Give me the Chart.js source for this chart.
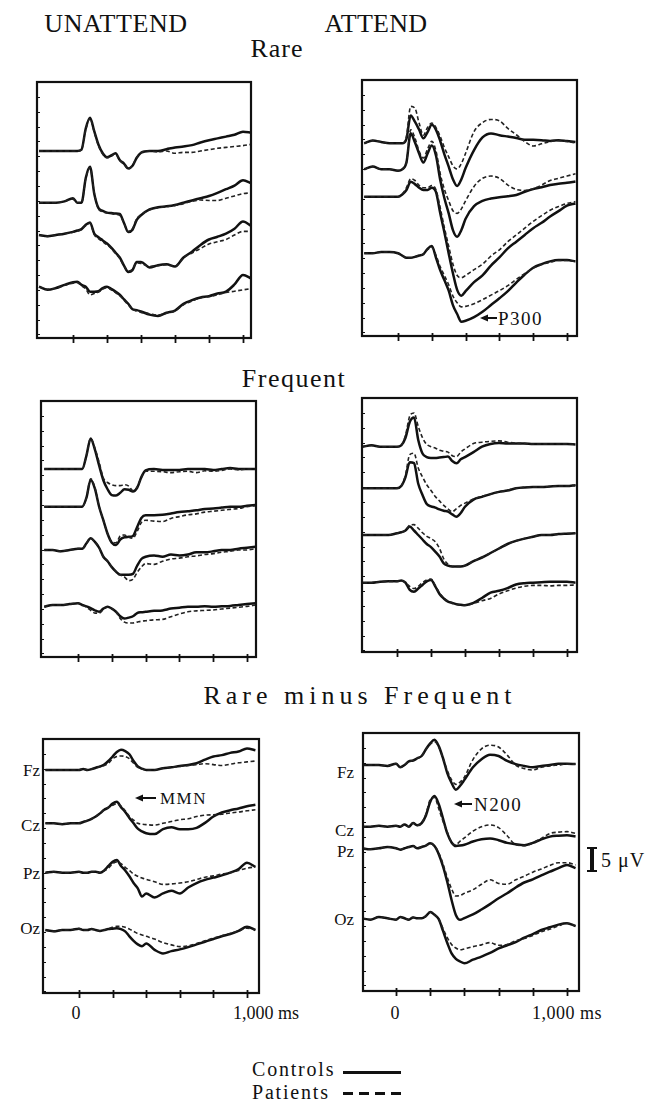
<!DOCTYPE html>
<html>
<head>
<meta charset="utf-8">
<script src="https://cdn.jsdelivr.net/npm/chart.js@4.4.1/dist/chart.umd.min.js"></script>
<style>
body { margin: 0; background: #fff; width: 654px; height: 1101px; position: relative; overflow: hidden; font-family: "Liberation Serif", serif; color: #111; }
canvas { position: absolute; }
.t { position: absolute; white-space: nowrap; line-height: 1; transform: translate(-50%, -50%); }
.r { position: absolute; white-space: nowrap; line-height: 1; transform: translate(-100%, -50%); font-size: 17px; }
.l { position: absolute; white-space: nowrap; line-height: 1; transform: translate(0, -50%); }
</style>
</head>
<body>
<div class="t" style="left:116px;top:24px;font-size:26px;letter-spacing:0.6px">UNATTEND</div>
<div class="t" style="left:376px;top:24px;font-size:26px;letter-spacing:0.3px">ATTEND</div>
<div class="t" style="left:277px;top:49px;font-size:26px;letter-spacing:1px">Rare</div>
<div class="t" style="left:294px;top:379px;font-size:26px;letter-spacing:1.5px">Frequent</div>
<div class="t" style="left:360px;top:696px;font-size:26px;letter-spacing:5px">Rare minus Frequent</div>

<div class="r" style="left:40px;top:770px">Fz</div>
<div class="r" style="left:40px;top:825px">Cz</div>
<div class="r" style="left:40px;top:873px">Pz</div>
<div class="r" style="left:40px;top:928px">Oz</div>
<div class="r" style="left:354px;top:772px">Fz</div>
<div class="r" style="left:354px;top:830px">Cz</div>
<div class="r" style="left:354px;top:851px">Pz</div>
<div class="r" style="left:354px;top:919px">Oz</div>

<div class="l" style="left:160px;top:798px;font-size:17px;letter-spacing:1.5px">MMN</div>
<div class="l" style="left:474px;top:804px;font-size:19px;letter-spacing:1.5px">N200</div>
<div class="l" style="left:498px;top:318px;font-size:19px;letter-spacing:1.5px">P300</div>

<div class="t" style="left:76px;top:1013px;font-size:18px">0</div>
<div class="l" style="left:233px;top:1013px;font-size:18px">1,000 ms</div>
<div class="t" style="left:395px;top:1013px;font-size:18px">0</div>
<div class="l" style="left:532px;top:1013px;font-size:18px;letter-spacing:0.5px">1,000 ms</div>

<div style="position:absolute;left:590px;top:848px;width:4px;height:23px;background:#111"></div>
<div style="position:absolute;left:587px;top:847px;width:10px;height:2px;background:#111"></div>
<div style="position:absolute;left:587px;top:870px;width:10px;height:2px;background:#111"></div>
<div class="l" style="left:601px;top:860px;font-size:20px;letter-spacing:1px">5 μV</div>

<div class="l" style="left:252px;top:1069px;font-size:20px;letter-spacing:1.8px">Controls</div>
<div class="l" style="left:252px;top:1092px;font-size:20px;letter-spacing:1.8px">Patients</div>
<div style="position:absolute;left:343px;top:1071px;width:58px;height:3px;background:#111"></div>
<div style="position:absolute;left:343px;top:1092px;width:58px;height:3px;background:repeating-linear-gradient(90deg,#111 0 10px,transparent 10px 16px)"></div>

<script>
// sample times (ms) shared by every trace
const timesMs = [-200, -150, -100, -50, 0, 25, 50, 75, 100, 125, 150, 175, 200, 225, 250, 275, 300, 325, 350, 375, 400,
	450, 500, 550, 600, 650, 700, 750, 800, 850, 900, 950, 1000, 1050];
const channels = ["Fz", "Cz", "Pz", "Oz"];
const tickMs = [0, 200, 400, 600, 800, 1000];

// amplitudes in µV (negative up), rows = Fz, Cz, Pz, Oz
const rareUnattendControls = [
	[0, 0, 0, 0, 0, 0, -0.3, -5.0, -7.4, -4.4, -1.4, 0.5, 1.4, 1.0, 0.5, 2.0, 2.8, 3.9, 3.3, 1.5, 0.4, 0, 0, -0.4, -0.8, -1.0, -1.3, -1.9, -2.4, -2.8, -3.2, -3.6, -4.3, -4.1],
	[0, 0, 0, -0.3, -1.0, 0, 0, -5.5, -8.0, -2.0, 1.2, 1.8, 2.2, 2.3, 2.4, 2.5, 4.5, 6.5, 6.0, 3.8, 2.8, 1.5, 1.0, 0.8, 0.5, 0, -0.5, -1.0, -1.5, -2.2, -3.0, -3.8, -5.0, -4.3],
	[0, 0.3, 0, -0.3, -0.7, -1.0, -1.3, -2.3, -2.8, -0.3, 0.5, 1.2, 1.9, 2.8, 3.9, 5.0, 6.8, 8.2, 7.8, 6.0, 6.0, 7.2, 6.7, 6.5, 7.0, 5.0, 3.7, 2.2, 1.0, 0.4, -0.3, -1.4, -3.0, -2.0],
	[0, 0.7, 0.3, -0.4, -1.0, -1.1, -0.4, 0, 1.1, 1.1, 1.0, 0.3, 0, 0.5, 1.1, 1.8, 2.8, 3.8, 5.0, 5.2, 5.5, 6.2, 6.5, 5.8, 5.3, 3.8, 3.0, 2.4, 2.1, 1.5, 1.1, -0.5, -2.6, -1.8]
];
const rareUnattendPatients = [
	[0, 0, 0, 0, 0, 0, -0.3, -4.8, -7.2, -4.2, -1.2, 0.7, 1.5, 1.1, 0.6, 2.1, 2.9, 4.0, 3.2, 1.4, 0.4, 0, 0.2, 0, 0.5, 0.3, 0.3, 0, -0.3, -0.6, -0.8, -1.0, -1.2, -1.5],
	[0, 0, 0, -0.3, -0.8, 0, 0, -5.3, -7.8, -2.2, 1.4, 2.0, 2.3, 2.4, 2.6, 2.8, 4.6, 6.4, 5.8, 3.6, 2.7, 1.6, 1.1, 0.9, 0.6, 0.2, -0.3, -0.6, -0.5, -0.5, -1.0, -1.5, -2.0, -2.2],
	[0, 0.3, 0, -0.3, -0.6, -0.9, -1.2, -2.1, -2.6, -0.1, 0.8, 1.5, 2.2, 3.0, 4.1, 5.2, 6.9, 8.0, 7.6, 6.2, 6.3, 7.0, 6.8, 6.6, 7.0, 5.0, 4.0, 3.0, 2.0, 1.5, 1.0, 0, -0.8, -0.8],
	[0, 0.6, 0.3, -0.3, -0.8, -0.9, -0.2, 0.5, 1.8, 1.5, 1.2, 0.5, 0.2, 0.7, 1.3, 2.0, 3.0, 4.0, 5.0, 5.4, 5.7, 6.0, 6.3, 5.9, 5.4, 4.0, 3.2, 2.5, 2.2, 1.8, 1.3, 1.0, 0.7, 0.4]
];
const rareAttendControls = [
	[0, -0.6, -0.3, 0, 0, 0, -1.0, -6.2, -4.8, -3.0, -1.1, -2.5, -4.1, -3.0, -0.5, 2.5, 5.2, 8.0, 9.5, 8.0, 5.5, 1.5, -1.3, -2.2, -1.8, -1.5, -1.2, -0.8, -0.8, -0.7, -0.5, -0.7, -0.5, -0.3],
	[0, -0.6, 0, 0, 0.3, 0, -1.5, -8.0, -6.0, -3.5, -1.5, -3.5, -5.3, -3.0, 2.4, 6.5, 9.8, 13.5, 15.0, 13.5, 11.0, 8.2, 7.0, 6.5, 6.2, 6.0, 5.7, 5.0, 4.4, 4.0, 3.5, 3.2, 3.0, 2.7],
	[0, 0, 0, 0, 0, -0.5, -1.5, -3.3, -2.8, -2.0, -1.5, -1.5, -2.0, -1.0, 3.7, 8.0, 12.6, 17.0, 20.7, 22.0, 21.0, 19.0, 17.5, 15.3, 13.5, 11.5, 10.0, 8.5, 7.0, 5.8, 4.4, 3.2, 2.0, 1.5],
	[0, 0, -0.3, -0.3, 0, 0.5, 1.0, 1.0, 0.8, 0.5, 0.2, -1.0, -1.6, 1.0, 3.8, 6.0, 8.3, 11.5, 13.5, 15.2, 15.0, 14.2, 13.0, 11.5, 10.0, 8.4, 6.5, 4.7, 3.2, 2.4, 1.8, 1.5, 1.5, 1.8]
];
const rareAttendPatients = [
	[0, -0.6, -0.3, 0, 0, 0, -1.5, -8.2, -7.8, -4.5, -1.8, -3.5, -4.5, -3.5, -1.5, 1.0, 3.0, 5.0, 5.7, 4.5, 2.2, -2.6, -4.6, -5.3, -5.0, -3.3, -1.9, -0.4, 0.6, 0.1, -0.4, -0.6, -0.4, -0.1],
	[0, -0.6, 0, 0, 0.3, 0, -1.5, -8.8, -7.0, -4.0, -2.5, -4.5, -6.2, -4.0, 1.0, 4.5, 7.0, 9.2, 9.8, 8.8, 7.0, 3.8, 2.0, 1.5, 2.0, 3.5, 4.5, 4.7, 4.3, 3.5, 2.5, 2.0, 1.5, 1.0],
	[0, 0, 0, 0, 0, -0.5, -2.0, -4.0, -3.6, -2.5, -2.0, -2.0, -2.5, -1.5, 2.5, 7.0, 11.0, 15.0, 17.5, 18.0, 17.5, 16.2, 15.0, 13.2, 11.8, 10.0, 8.5, 7.0, 5.5, 4.2, 3.0, 2.2, 1.5, 1.1],
	[0, 0, -0.3, -0.3, 0, 0.5, 1.0, 1.0, 0.8, 0.5, 0.2, -0.8, -1.3, 0.5, 3.0, 5.0, 7.0, 9.5, 11.0, 11.9, 11.8, 11.2, 10.3, 9.3, 8.3, 7.2, 5.8, 4.5, 3.3, 2.5, 2.0, 1.6, 1.6, 1.8]
];
const freqUnattendControls = [
	[0, 0, 0, 0, 0, 0, -3.0, -6.8, -4.3, -0.8, 2.5, 4.5, 5.8, 5.9, 5.3, 4.5, 4.6, 5.0, 4.2, 1.8, 0.3, 0, 0.2, 0.2, 0.2, 0, 0, 0, 0.2, 0, -0.2, 0, 0, 0],
	[0, 0, 0, 0, 0, 0, -2.0, -6.0, -4.0, 0, 3.0, 6.0, 8.0, 8.5, 7.3, 6.8, 6.7, 6.5, 4.5, 2.5, 1.9, 1.9, 1.8, 1.5, 1.2, 1.0, 0.8, 0.5, 0.4, 0.2, 0, 0, -0.2, -0.4],
	[0, 0, 0.3, 0, -0.3, -0.3, -1.5, -2.6, -1.8, -0.5, 1.5, 2.5, 3.8, 4.8, 5.5, 5.5, 5.5, 5.3, 3.5, 2.0, 1.5, 1.2, 1.5, 1.0, 1.2, 1.0, 0.5, 0.5, 0.3, 0, 0, -0.3, -0.5, -0.7],
	[0.4, 0, 0, -0.2, -0.4, 0, 0.3, 0.7, 1.2, 1.5, 0.8, 0.4, 0.8, 1.5, 2.5, 3.0, 2.8, 2.5, 1.8, 1.6, 1.5, 1.3, 1.2, 0.8, 0.6, 0.4, 0.4, 0.3, 0.4, 0.3, 0.2, 0, -0.2, -0.4]
];
const freqUnattendPatients = [
	[0, 0, 0, 0, 0, 0, -3.0, -6.8, -4.6, -1.5, 2.0, 3.0, 3.5, 3.7, 3.7, 3.5, 3.8, 4.8, 4.0, 1.8, 0.5, 0.5, 0.6, 0.8, 0.6, 0.5, 0.8, 0.4, 0.5, 0.3, 0, 0.2, 0, 0],
	[0, 0, 0, 0, 0, 0, -2.0, -6.2, -4.2, 0, 3.0, 6.0, 7.8, 8.0, 6.5, 6.3, 6.8, 7.0, 5.5, 3.5, 3.0, 3.2, 3.3, 2.6, 2.2, 1.8, 1.6, 1.2, 1.0, 0.8, 0.6, 0.4, 0, -0.2],
	[0, 0, 0.3, 0, -0.3, -0.3, -1.5, -2.6, -1.8, -0.5, 1.5, 2.5, 3.8, 4.8, 5.5, 6.0, 6.8, 6.5, 5.0, 3.8, 3.0, 3.2, 2.5, 2.0, 1.8, 1.5, 1.3, 1.0, 0.8, 0.5, 0.3, 0, 0, -0.3],
	[0.4, 0, 0, -0.2, -0.4, 0, 0.5, 1.2, 1.8, 1.8, 1.0, 0.5, 0.8, 1.5, 3.0, 3.8, 4.0, 4.0, 3.8, 3.6, 3.5, 3.3, 3.2, 2.6, 2.0, 1.5, 1.3, 1.2, 1.1, 0.9, 0.7, 0.5, 0.3, 0]
];
const freqAttendControls = [
	[0, -0.3, 0, 0, 0, -0.3, -2.0, -5.5, -6.5, -1.5, 1.5, 2.3, 2.5, 2.5, 2.4, 2.3, 2.2, 3.2, 3.7, 2.8, 2.3, 1.2, 0, -0.6, -0.8, -0.7, -0.7, -0.7, -0.6, -0.6, -0.6, -0.6, -0.6, -0.5],
	[0, 0, 0, 0, 0, -0.5, -2.5, -5.8, -5.6, -1.0, 1.5, 3.5, 4.0, 4.3, 4.7, 5.0, 5.2, 5.8, 6.3, 5.5, 4.1, 2.5, 1.9, 1.3, 0.8, 0.5, 0, -0.2, -0.3, -0.3, -0.4, -0.5, -0.5, -0.7],
	[0, 0, 0, 0, -0.4, -0.6, -1.0, -1.9, -1.0, 0, 1.0, 2.0, 2.7, 3.7, 4.8, 6.3, 6.8, 7.0, 7.0, 7.0, 6.8, 5.8, 5.0, 4.0, 3.0, 2.0, 1.3, 0.8, 0.4, 0, 0, -0.2, -0.3, -0.4],
	[0, 0, -0.2, -0.3, -0.3, -0.5, 0, 1.6, 2.0, 1.3, 0.5, -0.3, -0.6, 0.8, 2.5, 3.5, 4.2, 4.5, 4.8, 4.9, 5.0, 4.5, 3.4, 2.2, 1.8, 1.2, 0.4, 0.1, 0, -0.1, -0.2, -0.2, -0.2, 0]
];
const freqAttendPatients = [
	[0, -0.3, 0, 0, 0, -0.3, -2.5, -6.8, -7.5, -4.5, -2.0, -0.5, 0, 0.3, 0.8, 1.0, 1.2, 2.0, 2.2, 1.2, 0.5, -0.7, -1.0, -1.2, -1.3, -1.0, -0.8, -0.7, -0.6, -0.6, -0.6, -0.6, -0.6, -0.5],
	[0, 0, 0, 0, 0, -0.5, -3.0, -7.5, -7.8, -4.5, -2.5, -0.8, 0.5, 1.8, 2.8, 3.8, 4.6, 5.2, 4.5, 3.8, 3.3, 2.4, 1.8, 1.3, 0.8, 0.4, 0, -0.2, -0.3, -0.3, -0.4, -0.5, -0.5, -0.7],
	[0, 0, 0, 0, -0.4, -0.6, -1.0, -2.2, -2.3, -1.5, -0.5, 0.3, 0.8, 1.5, 3.0, 5.3, 6.5, 7.0, 7.0, 7.0, 6.8, 5.8, 5.0, 4.0, 3.0, 2.0, 1.3, 0.8, 0.4, 0, 0, -0.2, -0.3, -0.4],
	[0, 0, -0.2, -0.3, -0.3, -0.5, 0, 0.8, 1.3, 0.8, 0, -0.6, -0.8, 0.6, 2.3, 3.4, 4.1, 4.5, 4.8, 4.9, 5.0, 4.6, 4.0, 3.5, 2.5, 1.8, 1.2, 0.8, 0.6, 0.6, 0.7, 0.6, 0.6, 0.5]
];
const diffUnattendControls = [
	[0, 0, 0, 0, 0, -0.2, 0, -0.2, -0.5, -0.8, -1.2, -2.0, -3.0, -4.0, -4.5, -4.2, -3.5, -2.0, -0.8, -0.3, 0, 0, -0.4, -0.6, -0.9, -1.1, -1.5, -2.3, -3.0, -3.3, -3.8, -4.1, -4.8, -4.4],
	[0, 0, 0.2, 0, 0, -0.3, -0.6, -1.0, -1.5, -2.2, -3.0, -3.5, -4.4, -4.8, -3.6, -2.5, -1.2, 0, 1.2, 1.8, 2.2, 2.4, 1.3, 0.9, 1.3, 1.3, 1.0, -0.1, -1.5, -2.4, -2.9, -3.3, -3.8, -4.1],
	[0, -0.2, 0, 0, -0.2, 0, 0, -0.2, -0.2, 0, -0.5, -1.5, -2.4, -2.8, -1.5, -0.5, 0.8, 2.3, 3.5, 5.3, 4.6, 5.5, 4.6, 4.0, 4.6, 3.3, 2.3, 1.6, 1.1, 0.6, 0, -0.8, -2.2, -1.3],
	[0, 0.3, 0, 0, -0.3, 0, 0, -0.2, 0, 0.2, 0, -0.2, -0.3, -0.4, -0.2, 0.3, 1.4, 2.4, 3.2, 3.6, 3.0, 4.4, 5.2, 4.7, 4.3, 3.8, 3.2, 2.6, 2.0, 1.4, 0.9, 0.2, -0.7, 0]
];
const diffUnattendPatients = [
	[0, 0, 0, 0, 0, -0.2, 0, -0.2, -0.5, -0.7, -1.0, -1.5, -2.5, -3.0, -3.1, -3.0, -2.5, -1.5, -0.6, -0.2, 0, 0, -0.4, -0.6, -0.8, -1.0, -1.2, -1.4, -1.2, -1.0, -1.3, -1.6, -1.8, -2.0],
	[0, 0, 0.2, 0, 0, -0.3, -0.6, -1.0, -1.5, -2.2, -3.0, -3.5, -4.0, -4.3, -3.8, -2.8, -1.5, -0.7, 0, 0.2, 0.3, 0.4, 0, -0.4, -0.8, -1.0, -1.5, -1.8, -1.9, -2.0, -2.3, -2.5, -2.8, -3.0],
	[0, -0.2, 0, 0, -0.2, 0, 0, -0.2, -0.2, 0, -0.4, -1.0, -2.0, -2.4, -2.0, -1.2, -0.5, 0.3, 0.8, 1.2, 1.5, 2.0, 2.6, 2.5, 2.3, 2.0, 1.5, 1.0, 0.7, 0.3, 0, -0.5, -1.0, -1.3],
	[0, 0.3, 0, 0, -0.3, 0, 0, -0.2, 0, 0.2, 0, -0.3, -0.6, -0.8, -0.8, -0.6, -0.2, 0.3, 0.8, 1.1, 1.4, 2.0, 2.8, 3.3, 3.7, 3.5, 3.0, 2.4, 1.8, 1.3, 0.8, 0.2, -0.4, 0]
];
const diffAttendControls = [
	[0, 0, 0, 0.2, -0.3, 0.5, 0, -0.8, -1.0, -1.5, -2.0, -3.5, -4.8, -5.6, -4.2, -1.5, 1.8, 4.0, 5.5, 4.6, 3.3, 0.5, -1.3, -2.3, -2.0, -0.9, -0.2, 0.2, 0.5, 0.2, 0, -0.3, -0.3, -0.2],
	[0, 0, -0.2, 0, -0.2, 0, -0.5, 0, -0.8, -0.3, -0.8, -2.5, -5.5, -6.8, -5.0, -1.8, 1.5, 3.5, 4.3, 4.2, 4.0, 3.3, 2.8, 2.6, 3.0, 3.6, 3.9, 4.1, 3.6, 2.8, 2.2, 2.0, 1.9, 2.2],
	[0, 0.2, 0, -0.3, 0, 0.3, 0, -0.3, -0.5, 0, -0.3, -0.6, -1.1, -0.5, 1.3, 4.0, 7.5, 11.5, 14.8, 15.9, 15.5, 14.7, 13.6, 12.4, 11.1, 10.0, 8.7, 7.6, 6.9, 6.0, 5.2, 4.4, 3.7, 4.4],
	[0, 0.3, -0.3, 0, 0.3, -0.3, 0, 0.3, -0.2, 0, 0, -0.5, -1.4, -0.8, 0.2, 2.8, 5.5, 7.8, 9.0, 9.6, 10.0, 9.2, 8.5, 7.7, 6.7, 6.0, 5.3, 4.3, 3.5, 2.6, 2.0, 1.4, 1.1, 1.7]
];
const diffAttendPatients = [
	[0, 0, 0, 0.2, -0.3, 0.5, 0, -0.8, -1.0, -1.5, -2.0, -3.5, -4.6, -5.2, -4.0, -1.5, 1.2, 3.3, 4.3, 3.8, 2.7, -1.2, -3.6, -4.4, -4.0, -2.2, 0, 0.8, 1.1, 0.5, 0.2, 0, -0.2, -0.2],
	[0, 0, -0.2, 0, -0.2, 0, -0.5, 0, -0.8, -0.3, -0.8, -2.8, -6.0, -6.5, -4.0, -1.2, 1.2, 3.5, 4.0, 3.2, 2.5, 1.0, 0, -0.4, 0.2, 2.0, 4.0, 4.2, 3.6, 2.6, 1.5, 1.2, 1.1, 1.5],
	[0, 0.2, 0, -0.3, 0, 0.3, 0, -0.3, -0.5, 0, -0.3, -0.6, -1.1, -0.5, 1.0, 3.5, 6.5, 9.0, 10.6, 10.5, 10.0, 9.2, 8.0, 7.0, 7.8, 8.0, 7.0, 6.2, 5.3, 4.6, 3.8, 3.2, 3.2, 3.7],
	[0, 0.3, -0.3, 0, 0.3, -0.3, 0, 0.3, -0.2, 0, 0, -0.5, -1.4, -0.8, 0.2, 2.3, 4.3, 5.8, 6.6, 7.0, 6.8, 6.3, 5.9, 5.4, 6.0, 5.8, 5.0, 4.5, 3.8, 3.0, 2.4, 1.7, 1.1, 1.7]
];

const PX_PER_UV = 4.5;

// panel layout: box = [left, top, right, bottom], x0/x1000 = pixel of 0 ms and 1000 ms, base = channel baselines (px below top)
const panels = [
	{ box: [37, 82, 251, 338], x0: 73, x1000: 243, base: [69, 120.7, 153, 204.7], ctrl: rareUnattendControls, pat: rareUnattendPatients },
	{ box: [362, 80, 577, 336], x0: 398, x1000: 567, base: [63.3, 89.3, 116.7, 173.3], ctrl: rareAttendControls, pat: rareAttendPatients,
		arrow: [480, 318, 497] },
	{ box: [41, 401, 256, 657], x0: 78, x1000: 247, base: [68, 105.7, 149, 204], ctrl: freqUnattendControls, pat: freqUnattendPatients },
	{ box: [362, 398, 577, 652], x0: 397, x1000: 567, base: [48.7, 90.3, 137, 184.7], ctrl: freqAttendControls, pat: freqAttendPatients },
	{ box: [43, 739, 259, 993], x0: 79, x1000: 247, base: [31, 84.3, 133.7, 191], ctrl: diffUnattendControls, pat: diffUnattendPatients,
		arrow: [135, 798, 156] },
	{ box: [363, 733, 579, 991], x0: 396, x1000: 567, base: [32, 93.7, 115.3, 185.3], ctrl: diffAttendControls, pat: diffAttendPatients,
		arrow: [454, 804, 472] }
];

const PAD = 8;

// frame, ticks and arrow drawn on top of the traces
const framePlugin = {
	id: "frame",
	afterDatasetsDraw(chart, args, opts) {
		const ctx = chart.ctx;
		const { left, top, right, bottom } = chart.chartArea;
		const x = chart.scales.x;
		const y = chart.scales.y;
		ctx.save();
		ctx.strokeStyle = "#111";
		ctx.lineWidth = 2.2;
		ctx.strokeRect(left, top, right - left, bottom - top);
		ctx.lineWidth = 1.8;
		tickMs.forEach((v) => {
			const px = Math.round(x.getPixelForValue(v)) + 0.5;
			ctx.beginPath();
			ctx.moveTo(px, bottom - 3);
			ctx.lineTo(px, bottom + 5);
			ctx.stroke();
		});
		ctx.lineWidth = 1;
		for (let v = 3.3; v < y.max; v += 3.3) {
			const py = Math.round(y.getPixelForValue(v)) + 0.5;
			ctx.beginPath();
			ctx.moveTo(left, py);
			ctx.lineTo(left + 3, py);
			ctx.stroke();
		}
		if (opts.arrow) {
			const [hx, hy, tx] = opts.arrow.map((v, i) => v - (i === 1 ? opts.oy : opts.ox));
			ctx.lineWidth = 2;
			ctx.beginPath();
			ctx.moveTo(hx + 5, hy);
			ctx.lineTo(tx, hy);
			ctx.stroke();
			ctx.fillStyle = "#111";
			ctx.beginPath();
			ctx.moveTo(hx, hy);
			ctx.lineTo(hx + 8, hy - 3.5);
			ctx.lineTo(hx + 8, hy + 3.5);
			ctx.closePath();
			ctx.fill();
		}
		ctx.restore();
	},
};

function makePanel(p) {
	const [l, t, r, b] = p.box;
	const w = r - l;
	const h = b - t;
	const canvas = document.createElement("canvas");
	canvas.width = w + 2 * PAD;
	canvas.height = h + 2 * PAD;
	canvas.style.left = l - PAD + "px";
	canvas.style.top = t - PAD + "px";
	canvas.style.width = w + 2 * PAD + "px";
	canvas.style.height = h + 2 * PAD + "px";
	document.body.appendChild(canvas);

	const pxPerMs = (p.x1000 - p.x0) / 1000;
	const xMin = -(p.x0 - l) / pxPerMs;
	const xMax = 1000 + (r - p.x1000) / pxPerMs;

	const datasets = [];
	channels.forEach((ch, c) => {
		const off = p.base[c] / PX_PER_UV;
		datasets.push({
			label: ch + " patients",
			data: timesMs.map((tm, i) => ({ x: tm, y: off + p.pat[c][i] })),
			borderColor: "#222",
			borderWidth: 1.6,
			borderDash: [4, 2.5],
		});
		datasets.push({
			label: ch + " controls",
			data: timesMs.map((tm, i) => ({ x: tm, y: off + p.ctrl[c][i] })),
			borderColor: "#111",
			borderWidth: 2.5,
		});
	});

	new Chart(canvas.getContext("2d"), {
		type: "line",
		data: { datasets: datasets },
		options: {
			responsive: false,
			animation: false,
			events: [],
			layout: { padding: PAD },
			elements: {
				point: { radius: 0 },
				line: { cubicInterpolationMode: "monotone", fill: false },
			},
			scales: {
				x: { type: "linear", display: false, min: xMin, max: xMax },
				y: { type: "linear", display: false, reverse: true, min: 0, max: h / PX_PER_UV },
			},
			plugins: {
				legend: { display: false },
				tooltip: { enabled: false },
				frame: { arrow: p.arrow || null, ox: l - PAD, oy: t - PAD },
			},
		},
		plugins: [framePlugin],
	});
}

panels.forEach(makePanel);
</script>
</body>
</html>
